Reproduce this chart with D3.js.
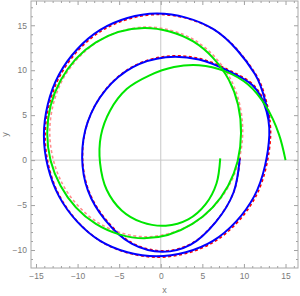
<!DOCTYPE html>
<html>
<head>
<meta charset="utf-8">
<script src="https://cdn.jsdelivr.net/npm/d3@7"></script>
<style>
  body { margin: 0; background: #fff; }
  text { font-family: "Liberation Sans", Arial, sans-serif; }
</style>
</head>
<body>
<div id="chart"></div>
<script>
// tick labels
let xTicks = [-15, -10, -5, 0, 5, 10, 15];
let yTicks = [-10, -5, 0, 5, 10, 15];

// blue curve (inner end first, clockwise, then the outer turn)
let bluePath = [
  [9.5, 0.2], [8.75, -3.6], [6.6, -6.9], [3.6, -9.4], [0.2, -10.2], [-3.5, -9.3],
  [-6.7, -6.65], [-8.75, -3.4], [-9.45, 0.3], [-8.8, 4.2], [-6.6, 7.85], [-3.35, 10.35],
  [0.6, 11.45], [4.6, 11.2], [8.3, 9.85], [11.0, 8.35], [12.45, 6.2],
  [13.05, 2.75], [11.23, -4.03], [6.28, -8.98], [-0.5, -10.7], [-7.28, -8.98], [-12.23, -4.03],
  [-14.05, 2.75], [-12.23, 9.53], [-7.28, 14.48], [-0.5, 16.3], [6.33, 14.57], [11.32, 9.58],
  [12.65, 6.27], [13.0, 4.3]
];

// red dashed reference next to the blue curve
let redPath = [
  [9.55, 0.3], [8.8, -3.5], [6.65, -6.8], [3.65, -9.3], [0.25, -10.1], [-3.45, -9.2],
  [-6.65, -6.55], [-8.7, -3.3], [-9.4, 0.4], [-8.75, 4.3], [-6.55, 7.95], [-3.3, 10.45],
  [0.65, 11.55], [4.65, 11.3], [8.35, 9.95], [11.1, 8.4], [12.6, 6.15],
  [13.2, 2.65], [11.38, -4.13], [6.43, -9.08], [-0.35, -10.8], [-7.13, -9.08], [-12.08, -4.13],
  [-13.9, 2.65], [-12.08, 9.43], [-7.13, 14.38], [-0.35, 16.2], [6.48, 14.47], [11.47, 9.48],
  [12.8, 6.17], [13.15, 4.2]
];

// green spiral (starts at x = 15, winds inward)
let greenSpiral = [
  [15.0, 0.0], [14.2, 2.9], [12.7, 5.9], [10.5, 8.4], [7.7, 9.9], [4.6, 10.55],
  [1.6, 10.35], [-1.4, 9.4], [-4.1, 7.9], [-6.1, 5.5], [-7.2, 2.7], [-7.3, -0.3],
  [-6.5, -3.3], [-4.7, -5.6], [-2.3, -6.9], [0.6, -7.3], [3.3, -6.6], [5.4, -4.9],
  [6.7, -2.6], [7.15, 0.2]
];

// green closed loop
let greenLoop = [
  [9.65, 3.0], [8.2, 8.9], [3.9, 13.2], [-2.0, 14.7], [-7.8, 13.1], [-12.05, 8.85],
  [-13.65, 3.0], [-12.05, -2.85], [-7.8, -7.1], [-2.0, -8.7], [3.8, -7.1], [8.1, -2.85]
];

// pink dashed reference next to the green loop
let pinkLoop = [
  [9.85, 3.13], [8.4, 9.0], [4.1, 13.33], [-1.75, 14.8], [-7.55, 13.2], [-11.8, 8.95],
  [-13.35, 3.13], [-11.8, -2.68], [-7.55, -6.95], [-1.75, -8.53], [4.05, -6.95], [8.3, -2.68]
];

let svgWidth = 300;
let svgHeight = 296;

let svg = d3.select("#chart")
  .append("svg")
  .attr("width", svgWidth)
  .attr("height", svgHeight);

let xScale = d3.scaleLinear().domain([-15.6, 16.5]).range([31, 298]);
let yScale = d3.scaleLinear().domain([-12, 17.7]).range([268, 1]);

let plotLeft = xScale.range()[0], plotRight = xScale.range()[1];
let plotTop = yScale.range()[1], plotBottom = yScale.range()[0];

svg.append("clipPath").attr("id", "plotClip")
  .append("rect")
  .attr("x", plotLeft).attr("y", plotTop)
  .attr("width", plotRight - plotLeft).attr("height", plotBottom - plotTop);

// axes through the origin
svg.append("line")
  .attr("x1", plotLeft).attr("x2", plotRight)
  .attr("y1", yScale(0)).attr("y2", yScale(0))
  .attr("stroke", "#c8c8c8").attr("stroke-width", 1);
svg.append("line")
  .attr("x1", xScale(0)).attr("x2", xScale(0))
  .attr("y1", plotTop).attr("y2", plotBottom)
  .attr("stroke", "#c8c8c8").attr("stroke-width", 1);

let xMinor = d3.range(-15, 17).filter(d => d % 5 !== 0);
let yMinor = d3.range(-11, 18).filter(d => d % 5 !== 0);

function frameAxis(axis, transform, labels) {
  let g = svg.append("g").attr("transform", transform).call(axis);
  g.select(".domain").remove();
  g.selectAll("line").attr("stroke", "#a0a0a0");
  g.selectAll("text")
    .attr("fill", labels ? "#7a7a7a" : "none")
    .attr("font-size", "8.5px");
  return g;
}

// major ticks
frameAxis(d3.axisBottom(xScale).tickValues(xTicks).tickSize(-4).tickPadding(5),
  `translate(0,${plotBottom})`, true);
frameAxis(d3.axisTop(xScale).tickValues(xTicks).tickSize(-4).tickFormat(""),
  `translate(0,${plotTop})`, false);
frameAxis(d3.axisLeft(yScale).tickValues(yTicks).tickSize(-4).tickPadding(4),
  `translate(${plotLeft},0)`, true);
frameAxis(d3.axisRight(yScale).tickValues(yTicks).tickSize(-4).tickFormat(""),
  `translate(${plotRight},0)`, false);

// minor ticks
frameAxis(d3.axisBottom(xScale).tickValues(xMinor).tickSize(-2).tickFormat(""),
  `translate(0,${plotBottom})`, false);
frameAxis(d3.axisTop(xScale).tickValues(xMinor).tickSize(-2).tickFormat(""),
  `translate(0,${plotTop})`, false);
frameAxis(d3.axisLeft(yScale).tickValues(yMinor).tickSize(-2).tickFormat(""),
  `translate(${plotLeft},0)`, false);
frameAxis(d3.axisRight(yScale).tickValues(yMinor).tickSize(-2).tickFormat(""),
  `translate(${plotRight},0)`, false);

// frame
svg.append("rect")
  .attr("x", plotLeft).attr("y", plotTop)
  .attr("width", plotRight - plotLeft).attr("height", plotBottom - plotTop)
  .attr("fill", "none")
  .attr("stroke", "#a8a8a8")
  .attr("stroke-width", 1);

let line = d3.line()
  .x(d => xScale(d[0]))
  .y(d => yScale(d[1]))
  .curve(d3.curveCatmullRom.alpha(0.5));

let loopLine = d3.line()
  .x(d => xScale(d[0]))
  .y(d => yScale(d[1]))
  .curve(d3.curveCatmullRomClosed.alpha(0.5));

let plot = svg.append("g").attr("clip-path", "url(#plotClip)");

plot.append("path")
  .attr("d", line(redPath))
  .attr("fill", "none")
  .attr("stroke", "#ff0000")
  .attr("stroke-width", 1.6)
  .attr("stroke-dasharray", "3,2.5");

plot.append("path")
  .attr("d", loopLine(pinkLoop))
  .attr("fill", "none")
  .attr("stroke", "#ff8c8c")
  .attr("stroke-width", 1.6)
  .attr("stroke-dasharray", "3,2.5");

plot.append("path")
  .attr("d", line(bluePath))
  .attr("fill", "none")
  .attr("stroke", "#0000ff")
  .attr("stroke-width", 2);

plot.append("path")
  .attr("d", loopLine(greenLoop))
  .attr("fill", "none")
  .attr("stroke", "#00e600")
  .attr("stroke-width", 2);

plot.append("path")
  .attr("d", line(greenSpiral))
  .attr("fill", "none")
  .attr("stroke", "#00e600")
  .attr("stroke-width", 2);

// axis labels
svg.append("text")
  .attr("x", (plotLeft + plotRight) / 2)
  .attr("y", 293)
  .attr("text-anchor", "middle")
  .attr("font-size", "9px")
  .attr("fill", "#7a7a7a")
  .text("x");

svg.append("text")
  .attr("transform", `translate(8,${(plotTop + plotBottom) / 2}) rotate(-90)`)
  .attr("text-anchor", "middle")
  .attr("font-size", "9px")
  .attr("fill", "#7a7a7a")
  .text("y");
</script>
</body>
</html>
